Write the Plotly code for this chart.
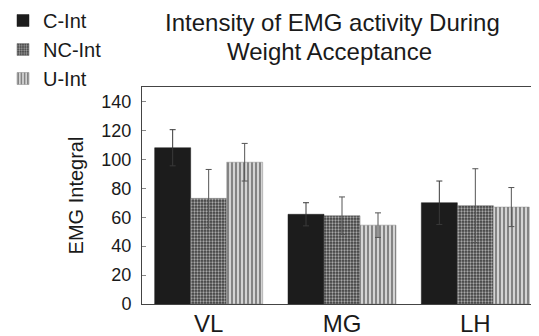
import plotly.graph_objects as go

categories = ["VL", "MG", "LH"]
c_int = [108, 62, 70]
c_int_err = [12.5, 8, 15]
nc_int = [73, 61, 68]
nc_int_err = [20, 13, 25.5]
u_int = [98, 54.5, 67]
u_int_err = [13, 8.5, 13.5]
y_ticks = [0, 20, 40, 60, 80, 100, 120, 140]
title_lines = ["Intensity of EMG activity During", "Weight Acceptance"]

font = "Liberation Sans, Arial, sans-serif"
ink = "#1a1a1a"


def err(arr, color):
    return dict(type="data", array=arr, symmetric=True, color=color, thickness=1, width=3)


fig = go.Figure()
fig.add_trace(go.Bar(
    name="C-Int", x=categories, y=c_int,
    error_y=err(c_int_err, "#3a3a3a"),
    marker=dict(color="#1c1c1c", line=dict(color="#1c1c1c", width=0.5)),
))
fig.add_trace(go.Bar(
    name="NC-Int", x=categories, y=nc_int,
    error_y=err(nc_int_err, "#555555"),
    marker=dict(color="#5a5a5a", line=dict(color="#666666", width=0.5),
                pattern=dict(shape=".", bgcolor="#3e3e3e", fgcolor="#a8a8a8",
                             size=3, solidity=0.45, fillmode="replace")),
))
fig.add_trace(go.Bar(
    name="U-Int", x=categories, y=u_int,
    error_y=err(u_int_err, "#555555"),
    marker=dict(color="#bbbbbb", line=dict(color="#888888", width=0.5),
                pattern=dict(shape="|", bgcolor="#d4d4d4", fgcolor="#707070",
                             size=4, solidity=0.4, fillmode="replace")),
))

# the page shows the figure with an 8px offset; positions below compensate for it
ml, mr, mt, mb = 134, 5, 79, 40
plot_w, plot_h = 539 - ml - mr, 336 - mt - mb

fig.update_layout(
    width=539, height=336,
    margin=dict(l=ml, r=mr, t=mt, b=mb, autoexpand=False),
    paper_bgcolor="white", plot_bgcolor="white",
    barmode="group", bargap=0.19, bargroupgap=0,
    font=dict(family=font, color=ink, size=18),
    legend=dict(x=(-5 - ml) / plot_w, y=(336 - mb + 7) / plot_h,
                xref="paper", yref="paper",
                xanchor="left", yanchor="top",
                font=dict(family=font, size=20, color=ink),
                bgcolor="rgba(0,0,0,0)", itemwidth=30, tracegroupgap=0),
    showlegend=True,
    xaxis=dict(range=[-0.5, 2.5], showline=True, mirror=True, linecolor="#444444",
               linewidth=1, ticks="", showgrid=False, ticklabelstandoff=-2,
               automargin=False,
               tickfont=dict(family=font, size=24, color=ink)),
    yaxis=dict(range=[0, 150], tickvals=y_ticks, showline=True, linecolor="#444444",
               linewidth=1, ticks="inside", ticklen=4, tickcolor="#888888",
               showgrid=False, zeroline=False, ticklabelstandoff=6, automargin=False,
               title=dict(text="EMG Integral", font=dict(family=font, size=20, color=ink),
                          standoff=12),
               tickfont=dict(family=font, size=18, color=ink)),
)
for text, cx, cy in [(title_lines[0], 324, 15), (title_lines[1], 321, 43)]:
    fig.add_annotation(text=text, x=(cx - ml) / plot_w, y=(336 - mb - cy) / plot_h,
                       xref="paper", yref="paper", xanchor="center", yanchor="middle",
                       showarrow=False, font=dict(family=font, size=24, color=ink))

fig.write_html("out.html")
